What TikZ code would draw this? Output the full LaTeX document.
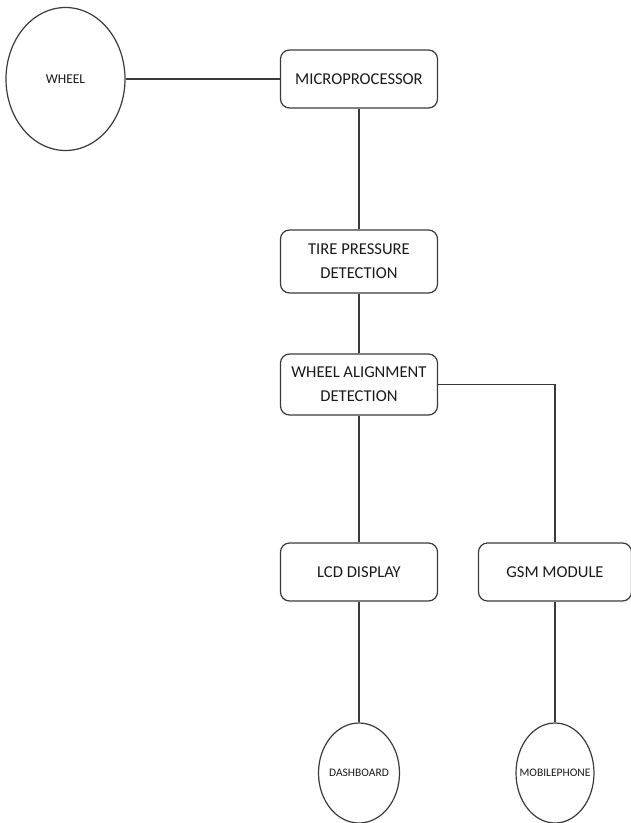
\documentclass[tikz,border=0pt]{standalone}
\usepackage{fontspec}
\setmainfont{Carlito}
\usetikzlibrary{shapes.geometric}
\definecolor{linec}{HTML}{3A3A3A}
\definecolor{textc}{HTML}{1A1A1A}
\tikzset{
  conn/.style={draw=linec, line width=1.2pt},
  blockbox/.style={draw=linec, line width=1.2pt, rectangle, rounded corners=9pt, inner sep=0pt,
    minimum width=157pt, minimum height=58pt, align=center, text=textc, font=\fontsize{16.6}{24}\selectfont},
  bigell/.style={draw=linec, line width=1.2pt, ellipse, inner sep=0pt,
    minimum width=119pt, minimum height=143pt},
  smallell/.style={draw=linec, line width=1.2pt, ellipse, inner sep=0pt,
    minimum width=80pt, minimum height=100pt},
  bigtext/.style={text=textc, inner sep=0pt, font=\fontsize{13.5}{15}\selectfont},
  smalltext/.style={text=textc, inner sep=0pt, font=\fontsize{11.5}{13}\selectfont},
}
\begin{document}
\begin{tikzpicture}[x=1pt,y=-1pt]
\useasboundingbox (0,0) rectangle (630,823);
\node[bigell] (wheel) at (65.5,79) {};
\node[bigtext] (wheeltext) at (wheel.center) {WHEEL};
\node[blockbox] (micro) at (359,79) {MICROPROCESSOR};
\node[blockbox, minimum height=63pt] (tire) at (359,261.5) {TIRE PRESSURE\\DETECTION};
\node[blockbox, minimum height=61pt] (align) at (359,384.5) {WHEEL ALIGNMENT\\DETECTION};
\node[blockbox] (lcd) at (359,572) {LCD DISPLAY};
\node[blockbox, minimum width=153pt] (gsm) at (555,572) {GSM MODULE};
\node[smallell, minimum width=81pt] (dash) at (359,773) {};
\node[smalltext] (dashtext) at (dash.center) {DASHBOARD};
\node[smallell, minimum width=78pt] (mobile) at (555,773) {};
\node[smalltext] (mobiletext) at (mobile.center) {MOBILEPHONE};
\draw[conn] (wheel) -- (micro);
\draw[conn] (micro) -- (tire);
\draw[conn] (tire) -- (align);
\draw[conn] (align) -- (lcd);
\draw[conn] (align.east) -| (gsm.north);
\draw[conn] (lcd) -- (dash);
\draw[conn] (gsm) -- (mobile);
\end{tikzpicture}
\end{document}
